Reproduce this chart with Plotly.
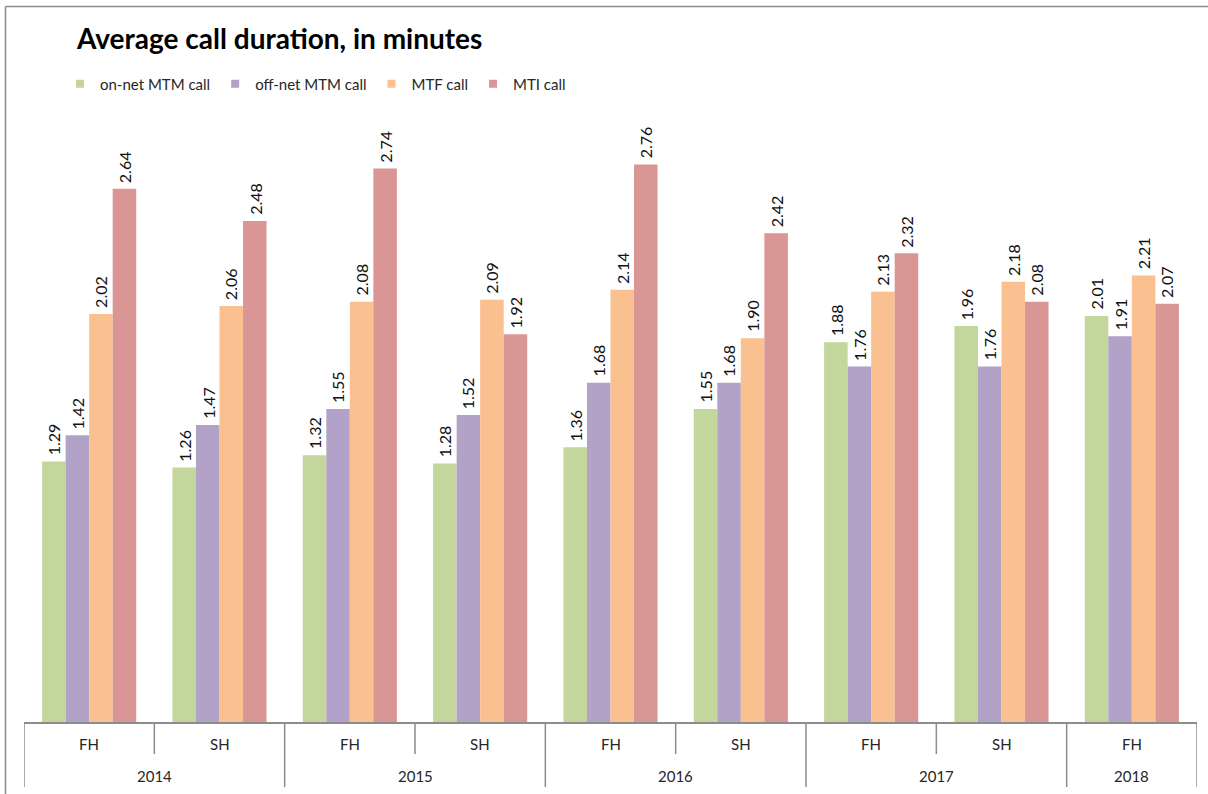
import plotly.graph_objects as go

# Half-year periods
years = ["2014", "2014", "2015", "2015", "2016", "2016", "2017", "2017", "2018"]
halves = ["FH", "SH", "FH", "SH", "FH", "SH", "FH", "SH", "FH"]

# Average call duration (minutes) per call type
series_names = ["on-net MTM call", "off-net MTM call", "MTF call", "MTI call"]
onnet_mtm = [1.29, 1.26, 1.32, 1.28, 1.36, 1.55, 1.88, 1.96, 2.01]
offnet_mtm = [1.42, 1.47, 1.55, 1.52, 1.68, 1.68, 1.76, 1.76, 1.91]
mtf = [2.02, 2.06, 2.08, 2.09, 2.14, 1.90, 2.13, 2.18, 2.21]
mti = [2.64, 2.48, 2.74, 1.92, 2.76, 2.42, 2.32, 2.08, 2.07]
series_values = [onnet_mtm, offnet_mtm, mtf, mti]
colors = ["#C3D69B", "#B3A2C7", "#FAC090", "#D99694"]

FONT = "Lato"
LINE = "#8C8C8C"

W, H = 1208, 794
ML, MR, MT, MB = 24, 11, 116, 72
plot_w = W - ML - MR
plot_h = H - MT - MB

BARGAP = 0.278
n_series = len(series_names)
bar_w = (1 - BARGAP) / n_series

n = len(years)
periods = list(range(n))

fig = go.Figure()
for name, vals, col in zip(series_names, series_values, colors):
    fig.add_trace(go.Bar(
        x=periods, y=vals, name=name, showlegend=False,
        marker=dict(color=col, line=dict(width=0)),
    ))
    # small square legend key
    fig.add_trace(go.Scatter(
        x=[None], y=[None], mode="markers", name=name,
        marker=dict(symbol="square", size=8, color=col),
    ))


def py(px):
    """pixel row -> paper y"""
    return (H - MB - px) / plot_h


def px_x(px):
    """pixel column -> paper x"""
    return (px - ML) / plot_w


shapes = []
annotations = []

# vertical value labels above each bar of the group
for k, vals in enumerate(series_values):
    offset = (k - (n_series - 1) / 2) * bar_w
    for i, v in enumerate(vals):
        annotations.append(dict(
            x=periods[i] + offset, y=v, xref="x", yref="y",
            text=f"{v:.2f}", textangle=-90, showarrow=False,
            xanchor="center", yanchor="bottom", yshift=4,
            font=dict(family=FONT, size=16, color="#111111"),
        ))

# category separators below the axis
for i in range(n + 1):
    b = i - 0.5
    outer = i == 0 or i == n or years[i] != years[i - 1]
    shapes.append(dict(
        type="line", xref="x", yref="paper", x0=b, x1=b,
        y0=0, y1=py(787 if outer else 754),
        line=dict(color=LINE, width=1.5),
    ))

# half-year labels
for i, h in enumerate(halves):
    annotations.append(dict(
        x=periods[i], y=py(744), xref="x", yref="paper", text=h,
        showarrow=False, xanchor="center", yanchor="middle",
        font=dict(family=FONT, size=15, color="#262626"),
    ))

# year labels centred under their half-years
for yr in dict.fromkeys(years):
    idx = [i for i, y in enumerate(years) if y == yr]
    annotations.append(dict(
        x=sum(idx) / len(idx), y=py(776), xref="x", yref="paper", text=yr,
        showarrow=False, xanchor="center", yanchor="middle",
        font=dict(family=FONT, size=15, color="#262626"),
    ))

# chart frame (left and top edges)
shapes.append(dict(type="line", xref="paper", yref="paper",
                   x0=px_x(5.5), x1=px_x(1400), y0=py(6.5), y1=py(6.5),
                   line=dict(color=LINE, width=1.5)))
shapes.append(dict(type="line", xref="paper", yref="paper",
                   x0=px_x(5.5), x1=px_x(5.5), y0=py(6.5), y1=py(900),
                   line=dict(color=LINE, width=1.5)))

fig.update_layout(
    width=W, height=H,
    margin=dict(l=ML, r=MR, t=MT, b=MB),
    paper_bgcolor="white", plot_bgcolor="white",
    barmode="group", bargap=BARGAP, bargroupgap=0,
    title=dict(
        text="Average call duration, in minutes",
        x=77 / W, xanchor="left", xref="container",
        y=1 - 39 / H, yanchor="middle", yref="container",
        font=dict(family=FONT, size=28, color="#000000", weight="bold"),
    ),
    legend=dict(
        orientation="h", x=px_x(60), xanchor="left",
        y=py(84), yanchor="middle",
        font=dict(family=FONT, size=15, color="#262626"),
        itemwidth=30, tracegroupgap=0,
    ),
    xaxis=dict(
        range=[-0.5, n - 0.5],
        showticklabels=False, ticks="", showgrid=False,
        showline=True, linecolor=LINE, linewidth=1.5, zeroline=False,
    ),
    yaxis=dict(
        range=[0, 3], visible=False, showgrid=False, zeroline=False,
    ),
    shapes=shapes,
    annotations=annotations,
)

fig.write_html("out.html")
